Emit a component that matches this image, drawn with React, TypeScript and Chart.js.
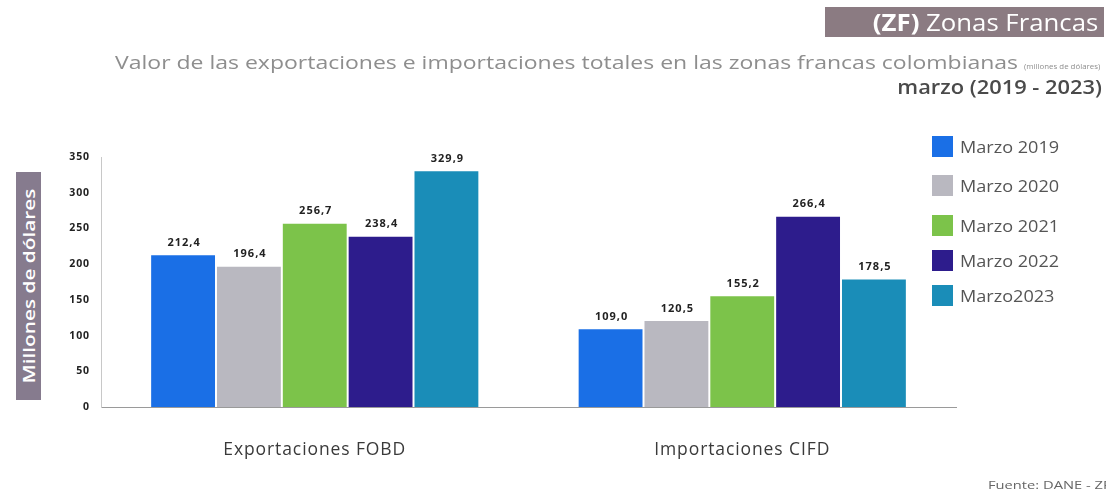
import React, { useEffect, useRef } from "react";
import { Chart, registerables } from "chart.js";

Chart.register(...registerables);

const categories = ["Exportaciones FOBD", "Importaciones CIFD"];
const seriesNames = ["Marzo 2019", "Marzo 2020", "Marzo 2021", "Marzo 2022", "Marzo2023"];
const marzo2019 = [212.4, 109.0];
const marzo2020 = [196.4, 120.5];
const marzo2021 = [256.7, 155.2];
const marzo2022 = [238.4, 266.4];
const marzo2023 = [329.9, 178.5];
const seriesColors = ["#1a6fe6", "#b9b8c0", "#7cc34a", "#2d1c8c", "#1a8db8"];
const yTicks = [0, 50, 100, 150, 200, 250, 300, 350];

const FONT = "'Open Sans', 'Noto Sans', sans-serif";

const fmt = (v: number) => v.toFixed(1).replace(".", ",");

const spacingPlugin = {
  id: "spacing",
  beforeDraw(chart: any) {
    (chart.ctx as any).letterSpacing = "0.9px";
  },
};

const labelPlugin = {
  id: "valueLabels",
  afterDatasetsDraw(chart: any) {
    const ctx = chart.ctx;
    ctx.save();
    (ctx as any).letterSpacing = "1px";
    ctx.font = `bold 11px ${FONT}`;
    ctx.fillStyle = "#222";
    ctx.textAlign = "center";
    ctx.textBaseline = "bottom";
    chart.data.datasets.forEach((ds: any, i: number) => {
      const meta = chart.getDatasetMeta(i);
      meta.data.forEach((bar: any, j: number) => {
        ctx.fillText(fmt(ds.data[j]), bar.x + 1, bar.y - 7);
      });
    });
    ctx.restore();
  },
};

export default function App() {
  const ref = useRef<HTMLCanvasElement>(null);
  useEffect(() => {
    const all = [marzo2019, marzo2020, marzo2021, marzo2022, marzo2023];
    const chart = new Chart(ref.current!, {
      type: "bar",
      data: {
        labels: categories,
        datasets: all.map((d, i) => ({
          label: seriesNames[i],
          data: d,
          backgroundColor: seriesColors[i],
          categoryPercentage: 0.77,
          barPercentage: 0.97,
        })),
      },
      options: {
        animation: false,
        responsive: false,
        maintainAspectRatio: false,
        layout: { padding: { left: 0, right: 150, top: 157, bottom: 0 } },
        plugins: { legend: { display: false }, title: { display: false }, tooltip: { enabled: false } },
        scales: {
          x: {
            grid: { display: false, drawTicks: false },
            border: { color: "#9a9a9a", width: 1 },
            ticks: { color: "#3a3a3a", font: { family: FONT, size: 17.5 }, padding: 33 },
            afterFit: (s: any) => { s.height = 89; },
          },
          y: {
            min: 0,
            max: 350,
            grid: { display: false, drawTicks: false },
            border: { color: "#c8c8c8", width: 1 },
            afterBuildTicks: (s: any) => { s.ticks = yTicks.map((v) => ({ value: v })); },
            ticks: { color: "#222", font: { family: FONT, size: 10.5, weight: "bold" }, padding: 11 },
            afterFit: (s: any) => { s.width = 101; },
          },
        },
      },
      plugins: [spacingPlugin, labelPlugin],
    });
    return () => chart.destroy();
  }, []);

  return (
    <div style={{ position: "absolute", left: 0, top: 0, width: 1106, height: 496, background: "#fff", overflow: "hidden", fontFamily: FONT }}>
      <canvas ref={ref} width={1106} height={496} style={{ position: "absolute", left: 0, top: 0 }} />
      <div style={{ position: "absolute", left: 825, top: 7, width: 279, height: 30, background: "#8b7b82" }} />
      <div style={{ position: "absolute", right: 8, top: 7, height: 30, lineHeight: "30px", color: "#fff", fontSize: 23, whiteSpace: "nowrap", transform: "scaleX(1.12)", transformOrigin: "right center" }}>
        <b>(ZF)</b> Zonas Francas
      </div>
      <div style={{ position: "absolute", right: 6, top: 50, lineHeight: "24px", color: "#8e8e8e", fontSize: 19, whiteSpace: "nowrap", transform: "scaleX(1.21)", transformOrigin: "right center" }}>
        Valor de las exportaciones e importaciones totales en las zonas francas colombianas <span style={{ fontSize: 6.5 }}>(millones de dólares)</span>
      </div>
      <div style={{ position: "absolute", right: 4, top: 75, lineHeight: "24px", color: "#4a4a4a", fontSize: 19, fontWeight: 600, whiteSpace: "nowrap", transform: "scaleX(1.15)", transformOrigin: "right center" }}>
        marzo (2019 - 2023)
      </div>
      <div style={{ position: "absolute", left: 16, top: 172, width: 25, height: 228, background: "#867b8e" }}>
        <div style={{ position: "absolute", left: 12.5, top: 114, transform: "translate(-50%, -50%) rotate(-90deg) scaleX(1.3)", color: "#fff", fontSize: 16, fontWeight: 600, whiteSpace: "nowrap", lineHeight: "20px" }}>
          Millones de dólares
        </div>
      </div>
      {seriesNames.map((n, i) => (
        <div key={n} style={{ position: "absolute", left: 932, top: [136, 175, 215, 250, 285][i], height: 21, display: "flex", alignItems: "center" }}>
          <div style={{ width: 21, height: 21, background: seriesColors[i], marginRight: 7 }} />
          <span style={{ color: "#555", fontSize: 16, whiteSpace: "nowrap", display: "inline-block", transform: "scaleX(1.13)", transformOrigin: "left center" }}>{n}</span>
        </div>
      ))}
      <div style={{ position: "absolute", left: 988, top: 477, lineHeight: "16px", color: "#666", fontSize: 10.5, whiteSpace: "nowrap", transform: "scaleX(1.4)", transformOrigin: "left center" }}>Fuente: DANE - ZF</div>
    </div>
  );
}
